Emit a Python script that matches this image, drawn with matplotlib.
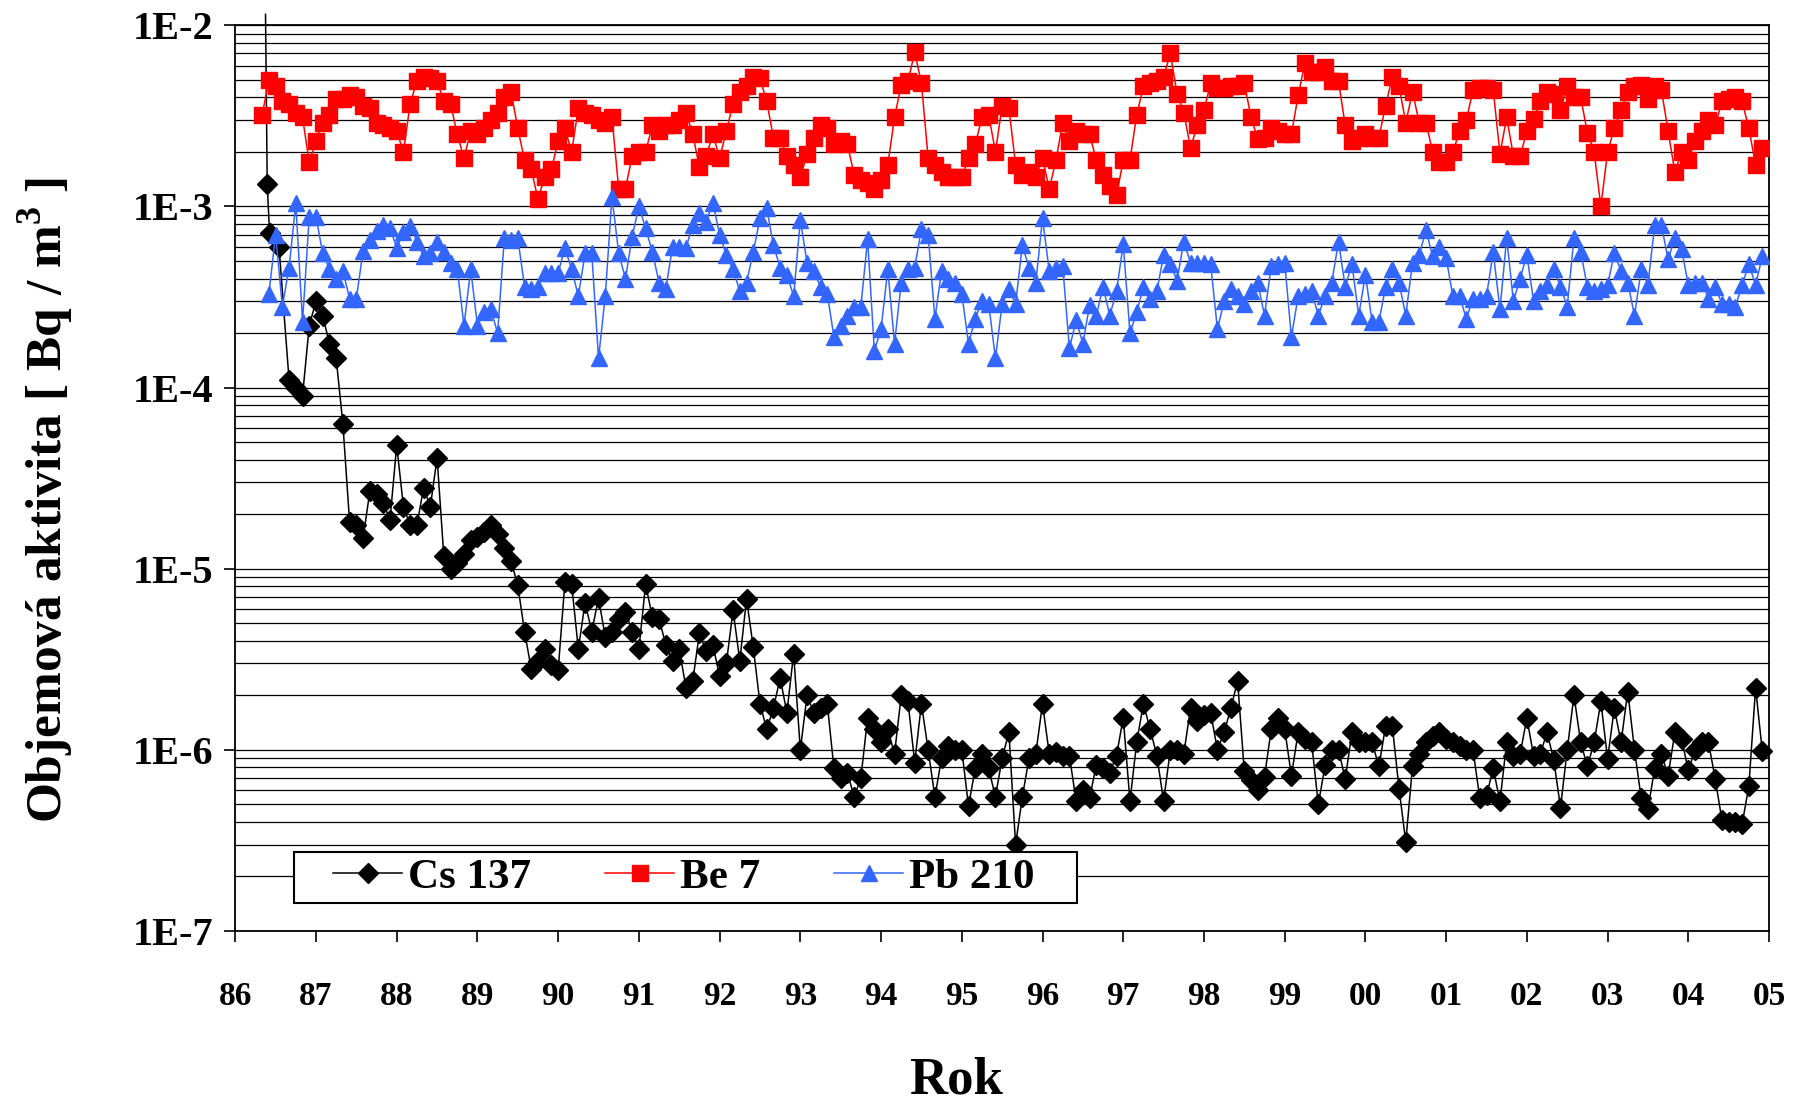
import numpy as np
import matplotlib
matplotlib.use('Agg')
import matplotlib.pyplot as plt
from matplotlib.ticker import FixedLocator, NullFormatter
from matplotlib.patches import Rectangle

plt.rcParams['font.family'] = ['Liberation Serif', 'DejaVu Serif']
plt.rcParams['font.weight'] = 'bold'
plt.rcParams['mathtext.fontset'] = 'custom'
plt.rcParams['mathtext.rm'] = 'Liberation Serif:bold'
plt.rcParams['mathtext.bf'] = 'Liberation Serif:bold'

# ---------------- data ----------------
# monthly samples, first month = May 1986 (month index 0)
first_year = 86
first_month_offset = 4  # months after January of first_year

be7 = [
    3.2e-3, 5.0e-3, 4.6e-3, 3.8e-3, 3.7e-3, 3.3e-3, 3.1e-3, 1.75e-3,
    2.3e-3, 2.9e-3, 3.2e-3, 3.9e-3, 3.9e-3, 4.1e-3, 4.0e-3, 3.6e-3, 3.5e-3, 2.9e-3, 2.8e-3, 2.7e-3,
    2.6e-3, 2.0e-3, 3.7e-3, 4.9e-3, 5.2e-3, 5.1e-3, 4.9e-3, 3.8e-3, 3.7e-3, 2.5e-3, 1.85e-3, 2.6e-3,
    2.5e-3, 2.7e-3, 3.0e-3, 3.3e-3, 4.0e-3, 4.3e-3, 2.7e-3, 1.8e-3, 1.6e-3, 1.1e-3, 1.45e-3, 1.6e-3,
    2.3e-3, 2.7e-3, 2.0e-3, 3.5e-3, 3.3e-3, 3.2e-3, 3.0e-3, 2.9e-3, 3.1e-3, 1.25e-3, 1.25e-3, 1.9e-3,
    2.0e-3, 2.0e-3, 2.8e-3, 2.6e-3, 2.8e-3, 2.8e-3, 3.0e-3, 3.3e-3, 2.5e-3, 1.65e-3, 1.9e-3, 2.5e-3,
    1.85e-3, 2.6e-3, 3.7e-3, 4.3e-3, 4.6e-3, 5.2e-3, 5.1e-3, 3.8e-3, 2.4e-3, 2.4e-3, 1.9e-3, 1.7e-3,
    1.45e-3, 1.95e-3, 2.4e-3, 2.8e-3, 2.7e-3, 2.2e-3, 2.3e-3, 2.2e-3, 1.5e-3, 1.4e-3, 1.35e-3, 1.25e-3,
    1.4e-3, 1.7e-3, 3.1e-3, 4.7e-3, 4.9e-3, 7.1e-3, 4.8e-3, 1.85e-3, 1.7e-3, 1.55e-3, 1.45e-3, 1.45e-3,
    1.45e-3, 1.85e-3, 2.2e-3, 3.1e-3, 3.2e-3, 2.0e-3, 3.6e-3, 3.5e-3, 1.7e-3, 1.5e-3, 1.55e-3, 1.45e-3,
    1.85e-3, 1.25e-3, 1.8e-3, 2.9e-3, 2.3e-3, 2.6e-3, 2.5e-3, 2.5e-3, 1.8e-3, 1.5e-3, 1.3e-3, 1.15e-3,
    1.8e-3, 1.8e-3, 3.2e-3, 4.6e-3, 4.8e-3, 4.9e-3, 5.2e-3, 7.0e-3, 4.2e-3, 3.3e-3, 2.1e-3, 2.8e-3,
    3.4e-3, 4.8e-3, 4.5e-3, 4.5e-3, 4.6e-3, 4.6e-3, 4.8e-3, 3.1e-3, 2.35e-3, 2.4e-3, 2.7e-3, 2.6e-3,
    2.5e-3, 2.5e-3, 4.1e-3, 6.2e-3, 5.5e-3, 5.5e-3, 5.9e-3, 4.9e-3, 4.9e-3, 2.8e-3, 2.3e-3, 2.4e-3,
    2.5e-3, 2.4e-3, 2.4e-3, 3.6e-3, 5.2e-3, 4.6e-3, 2.9e-3, 4.3e-3, 2.9e-3, 2.9e-3, 2.0e-3, 1.75e-3,
    1.75e-3, 2.0e-3, 2.6e-3, 3.0e-3, 4.4e-3, 4.5e-3, 4.5e-3, 4.4e-3, 1.95e-3, 3.1e-3, 1.9e-3, 1.9e-3,
    2.6e-3, 3.05e-3, 3.8e-3, 4.3e-3, 4.2e-3, 3.4e-3, 4.6e-3, 4.0e-3, 4.0e-3, 2.55e-3, 2.0e-3, 1.0e-3,
    2.0e-3, 2.7e-3, 3.4e-3, 4.3e-3, 4.6e-3, 4.7e-3, 3.9e-3, 4.6e-3, 4.4e-3, 2.6e-3, 1.55e-3, 2.0e-3,
    1.8e-3, 2.3e-3, 2.6e-3, 3.0e-3, 2.8e-3, 3.8e-3, 3.9e-3, 4.0e-3, 3.8e-3, 2.7e-3, 1.7e-3, 2.1e-3,
]

pb210 = [
    np.nan, 3.3e-4, 7.0e-4, 2.8e-4, 4.6e-4, 1.04e-3, 2.3e-4, 8.8e-4,
    8.8e-4, 5.5e-4, 4.5e-4, 4.0e-4, 4.4e-4, 3.1e-4, 3.1e-4, 5.7e-4, 6.5e-4, 7.3e-4, 7.9e-4, 7.6e-4,
    5.9e-4, 7.2e-4, 7.8e-4, 6.4e-4, 5.3e-4, 5.5e-4, 6.4e-4, 5.6e-4, 4.9e-4, 4.5e-4, 2.2e-4, 4.5e-4,
    2.2e-4, 2.6e-4, 2.7e-4, 2.0e-4, 6.7e-4, 6.5e-4, 6.7e-4, 3.6e-4, 3.5e-4, 3.6e-4, 4.3e-4, 4.3e-4,
    4.3e-4, 5.9e-4, 4.5e-4, 3.2e-4, 5.5e-4, 5.5e-4, 1.45e-4, 3.2e-4, 1.13e-3, 5.5e-4, 4.0e-4, 6.8e-4,
    1.0e-3, 7.6e-4, 5.6e-4, 3.8e-4, 3.5e-4, 6.0e-4, 6.0e-4, 5.9e-4, 7.9e-4, 9.2e-4, 8.2e-4, 1.05e-3,
    7.0e-4, 5.4e-4, 4.5e-4, 3.4e-4, 3.8e-4, 5.6e-4, 8.6e-4, 9.8e-4, 6.1e-4, 4.6e-4, 4.2e-4, 3.2e-4,
    8.4e-4, 4.9e-4, 4.4e-4, 3.6e-4, 3.3e-4, 1.9e-4, 2.2e-4, 2.5e-4, 2.8e-4, 2.8e-4, 6.6e-4, 1.6e-4,
    2.1e-4, 4.5e-4, 1.75e-4, 3.8e-4, 4.5e-4, 4.6e-4, 7.5e-4, 7.0e-4, 2.4e-4, 4.4e-4, 4.0e-4, 3.8e-4,
    3.3e-4, 1.75e-4, 2.4e-4, 3.0e-4, 2.9e-4, 1.45e-4, 2.9e-4, 3.5e-4, 2.9e-4, 6.1e-4, 4.6e-4, 3.8e-4,
    8.6e-4, 4.4e-4, 4.6e-4, 4.7e-4, 1.65e-4, 2.35e-4, 1.75e-4, 2.85e-4, 2.5e-4, 3.6e-4, 2.5e-4, 3.4e-4,
    6.2e-4, 2.0e-4, 2.6e-4, 3.6e-4, 3.1e-4, 3.4e-4, 5.4e-4, 4.8e-4, 3.9e-4, 6.4e-4, 4.9e-4, 4.9e-4,
    4.9e-4, 4.8e-4, 2.1e-4, 3.0e-4, 3.5e-4, 3.2e-4, 2.9e-4, 3.4e-4, 3.8e-4, 2.5e-4, 4.7e-4, 4.8e-4,
    4.9e-4, 1.9e-4, 3.2e-4, 3.3e-4, 3.4e-4, 2.5e-4, 3.2e-4, 3.8e-4, 6.4e-4, 3.6e-4, 4.8e-4, 2.5e-4,
    4.2e-4, 2.3e-4, 2.3e-4, 3.6e-4, 4.5e-4, 3.8e-4, 2.5e-4, 4.9e-4, 5.4e-4, 7.4e-4, 5.3e-4, 6.0e-4,
    5.2e-4, 3.2e-4, 3.2e-4, 2.4e-4, 3.1e-4, 3.1e-4, 3.2e-4, 5.6e-4, 2.7e-4, 6.7e-4, 3.0e-4, 4.0e-4,
    5.4e-4, 3.0e-4, 3.4e-4, 3.7e-4, 4.5e-4, 3.6e-4, 2.8e-4, 6.7e-4, 5.6e-4, 3.6e-4, 3.4e-4, 3.5e-4,
    3.7e-4, 5.5e-4, 4.4e-4, 3.8e-4, 2.5e-4, 4.5e-4, 3.7e-4, 7.9e-4, 7.9e-4, 5.1e-4, 6.7e-4, 5.8e-4,
    3.7e-4, 3.8e-4, 3.8e-4, 3.1e-4, 3.6e-4, 2.9e-4, 2.9e-4, 2.8e-4, 3.7e-4, 4.8e-4, 3.7e-4, 5.3e-4,
]

# Cs 137: denser sampling right after Chernobyl (fractional month index), then monthly from month 4
cs137_early_month = [0.5, 0.75, 1.1, 2.5]
cs137_early = [1.15e-2, 1.33e-3, 7.1e-4, 6.0e-4]
cs137_monthly_start = 4
cs137 = [
    1.1e-4, 1.0e-4, 9.0e-5, 2.2e-4,
    3.0e-4, 2.5e-4, 1.75e-4, 1.45e-4, 6.3e-5, 1.8e-5, 1.75e-5, 1.47e-5, 2.67e-5, 2.6e-5, 2.3e-5, 1.86e-5,
    4.8e-5, 2.2e-5, 1.74e-5, 1.74e-5, 2.8e-5, 2.2e-5, 4.1e-5, 1.18e-5, 1.0e-5, 1.08e-5, 1.2e-5, 1.45e-5,
    1.5e-5, 1.6e-5, 1.75e-5, 1.55e-5, 1.3e-5, 1.1e-5, 8.1e-6, 4.5e-6, 2.8e-6, 3.1e-6, 3.6e-6, 2.95e-6,
    2.75e-6, 8.4e-6, 8.2e-6, 3.6e-6, 6.5e-6, 4.5e-6, 6.9e-6, 4.2e-6, 4.5e-6, 5.3e-6, 5.8e-6, 4.5e-6,
    3.6e-6, 8.2e-6, 5.4e-6, 5.3e-6, 3.8e-6, 3.1e-6, 3.6e-6, 2.2e-6, 2.4e-6, 4.4e-6, 3.5e-6, 3.8e-6,
    2.55e-6, 3.0e-6, 5.9e-6, 3.1e-6, 6.8e-6, 3.7e-6, 1.8e-6, 1.3e-6, 1.7e-6, 2.5e-6, 1.6e-6, 3.4e-6,
    1.0e-6, 2.0e-6, 1.6e-6, 1.7e-6, 1.8e-6, 7.9e-7, 7.0e-7, 7.5e-7, 5.5e-7, 7.0e-7, 1.5e-6, 1.3e-6,
    1.1e-6, 1.3e-6, 9.5e-7, 2.0e-6, 1.85e-6, 8.5e-7, 1.8e-6, 1.0e-6, 5.5e-7, 9.0e-7, 1.05e-6, 1.0e-6,
    1.0e-6, 4.9e-7, 7.9e-7, 9.5e-7, 7.9e-7, 5.5e-7, 9.0e-7, 1.25e-6, 3.0e-7, 5.5e-7, 9.0e-7, 9.5e-7,
    1.8e-6, 9.5e-7, 9.7e-7, 9.3e-7, 9.3e-7, 5.2e-7, 6.0e-7, 5.4e-7, 8.3e-7, 7.9e-7, 7.5e-7, 9.3e-7,
    1.5e-6, 5.2e-7, 1.1e-6, 1.8e-6, 1.3e-6, 9.3e-7, 5.2e-7, 1.0e-6, 1.0e-6, 9.5e-7, 1.7e-6, 1.45e-6,
    1.55e-6, 1.6e-6, 1.0e-6, 1.25e-6, 1.7e-6, 2.4e-6, 7.6e-7, 6.8e-7, 6.0e-7, 7.1e-7, 1.3e-6, 1.5e-6,
    1.3e-6, 7.2e-7, 1.25e-6, 1.15e-6, 1.1e-6, 5.0e-7, 8.2e-7, 1.0e-6, 1.0e-6, 6.9e-7, 1.25e-6, 1.1e-6,
    1.1e-6, 1.1e-6, 8.1e-7, 1.35e-6, 1.35e-6, 6.1e-7, 3.1e-7, 8.1e-7, 9.5e-7, 1.1e-6, 1.2e-6, 1.25e-6,
    1.15e-6, 1.1e-6, 1.05e-6, 1.0e-6, 1.0e-6, 5.4e-7, 5.6e-7, 7.9e-7, 5.2e-7, 1.1e-6, 9.3e-7, 9.5e-7,
    1.5e-6, 9.3e-7, 9.5e-7, 1.25e-6, 8.8e-7, 4.8e-7, 1.0e-6, 2.0e-6, 1.1e-6, 8.1e-7, 1.1e-6, 1.85e-6,
    8.9e-7, 1.7e-6, 1.1e-6, 2.1e-6, 1.0e-6, 5.4e-7, 4.7e-7, 7.9e-7, 9.5e-7, 7.2e-7, 1.25e-6, 1.15e-6,
    7.7e-7, 1.0e-6, 1.1e-6, 1.1e-6, 6.9e-7, 4.1e-7, 4.0e-7, 4.0e-7, 3.9e-7, 6.3e-7, 2.2e-6, 9.8e-7,
]

series_names = ['Cs 137', 'Be 7', 'Pb 210']
x_tick_labels = ['86', '87', '88', '89', '90', '91', '92', '93', '94', '95',
                 '96', '97', '98', '99', '00', '01', '02', '03', '04', '05']
y_tick_labels = ['1E-7', '1E-6', '1E-5', '1E-4', '1E-3', '1E-2']

# ---------------- figure ----------------
fig = plt.figure(figsize=(18, 11.01), dpi=100)
ax = fig.add_axes([0.1307, 0.1544, 0.8521, 0.8226])


def month_to_year(m):
    return first_year + (first_month_offset + np.asarray(m, dtype=float)) / 12.0


x_be = month_to_year(np.arange(len(be7)))
x_pb = month_to_year(np.arange(len(pb210)))
cs_months = list(cs137_early_month) + list(range(cs137_monthly_start,
                                                   cs137_monthly_start + len(cs137)))
x_cs = month_to_year(cs_months)
y_cs = list(cs137_early) + list(cs137)

ax.plot(x_cs, y_cs, color='black', lw=1.1, marker='D', markersize=10,
        markerfacecolor='black', markeredgecolor='black',
        markevery=list(range(1, len(y_cs))), clip_on=False, zorder=3,
        label=series_names[0])
ax.plot(x_be, be7, color='#ff0000', lw=1.1, marker='s', markersize=11,
        markerfacecolor='#ff0000', markeredgecolor='#ff0000', zorder=3,
        label=series_names[1])
ax.plot(x_pb, pb210, color='#3366ff', lw=1.1, marker='^', markersize=12,
        markerfacecolor='#3366ff', markeredgecolor='#3366ff', zorder=3,
        label=series_names[2])

ax.set_yscale('log')
ax.set_ylim(1e-7, 1e-2)
x_ticks = np.arange(first_year, first_year + len(x_tick_labels))
ax.set_xlim(x_ticks[0], x_ticks[-1])

ax.xaxis.set_major_locator(FixedLocator(x_ticks))
ax.set_xticklabels(x_tick_labels)
major_y = 10.0 ** np.arange(-7, -1)
ax.yaxis.set_major_locator(FixedLocator(major_y))
ax.set_yticklabels(y_tick_labels)
minor_y = [k * 10.0 ** e for e in range(-7, -2) for k in range(2, 10)]
ax.yaxis.set_minor_locator(FixedLocator(minor_y))
ax.yaxis.set_minor_formatter(NullFormatter())

ax.grid(True, which='both', axis='y', color='black', lw=0.9, zorder=1)
ax.set_axisbelow(True)

ax.tick_params(axis='x', which='major', direction='out', length=8, width=1.2,
               pad=28, labelsize=24)
ax.tick_params(axis='y', which='major', direction='out', length=8, width=1.2,
               pad=8, labelsize=29)
ax.tick_params(axis='y', which='minor', length=0)
for lab in ax.get_xticklabels() + ax.get_yticklabels():
    lab.set_fontweight('bold')

for sp in ax.spines.values():
    sp.set_linewidth(1.3)
    sp.set_color('black')

ax.set_ylabel('Objemová aktivita [ Bq / m$^{3}$ ]', fontsize=37, fontweight='bold')
ax.yaxis.set_label_coords(-0.104, 0.476)
ax.set_xlabel('Rok', fontsize=38, fontweight='bold')
ax.xaxis.set_label_coords(0.47, -0.165)
ax.xaxis.label.set_va('center')

# legend box
leg_box = Rectangle((0.038, 0.031), 0.5105, 0.0565, transform=ax.transAxes,
                    facecolor='white', edgecolor='black', lw=1.5, zorder=6)
ax.add_patch(leg_box)
leg = ax.legend(loc='center left', bbox_to_anchor=(0.064, 0.059), ncol=3,
                frameon=False, borderpad=0, borderaxespad=0,
                handlelength=1.6, handletextpad=0.13, columnspacing=1.73,
                prop={'family': 'Liberation Serif', 'weight': 'bold', 'size': 31})
leg.set_zorder(7)

fig.savefig('out.png', dpi=100, facecolor='white')
